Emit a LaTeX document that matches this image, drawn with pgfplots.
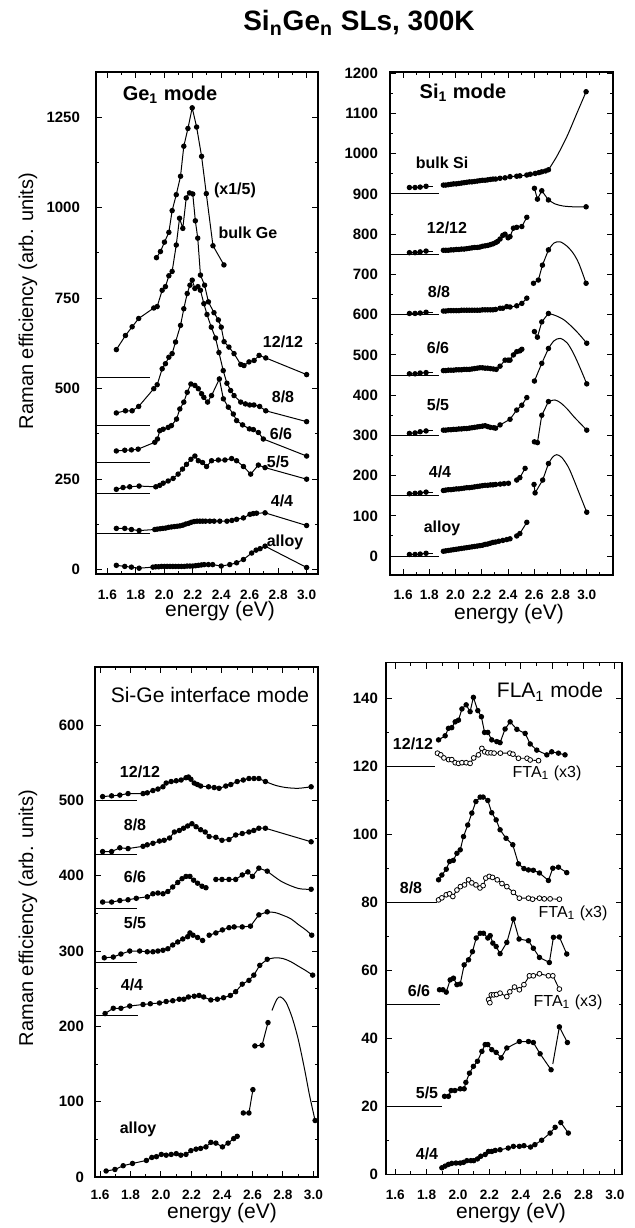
\documentclass[border=0pt]{standalone}
\usepackage{fontspec}
\setmainfont{Liberation Sans}
\usepackage{pgfplots}
\pgfplotsset{compat=1.18}
\pgfplotsset{
  panel/.style={
    scale only axis, anchor=north west,
    axis line style={line width=0.7pt},
    tick style={black, line width=0.5pt},
    major tick length=3pt, minor tick length=1.7pt,
    tick align=inside,
    xtick={1.6,1.8,2.0,2.2,2.4,2.6,2.8,3.0},
    minor xtick={1.5,1.7,1.9,2.1,2.3,2.5,2.7,2.9,3.1},
    minor y tick num=1,
    /pgf/number format/assume math mode=true,
    /pgf/number format/1000 sep={},
    scaled ticks=false,
    xticklabel style={font=\fontsize{6.8}{7}\selectfont\bfseries, /pgf/number format/fixed, /pgf/number format/fixed zerofill, /pgf/number format/precision=1},
    yticklabel style={font=\fontsize{7.5}{8}\selectfont\bfseries},
  },
  dots/.style={black, line width=0.5pt, mark=*, mark size=1.1pt},
  odots/.style={black, line width=0.45pt, mark=*, mark size=1.2pt, mark options={fill=white, line width=0.4pt}},
  bl/.style={black, line width=0.5pt, no markers},
  tl/.style={black, line width=0.5pt, no markers, smooth},
}
\begin{document}
\begin{tikzpicture}
\path[use as bounding box] (0pt,0pt) rectangle (317.5pt,-614pt);

% ---------------- Panel 1: Ge1 mode ----------------
\begin{axis}[panel, at={(48pt,-36pt)}, width=111pt, height=251pt,
  xmin=1.52, xmax=3.08, ymin=-12, ymax=1375,
  ytick={0,250,500,750,1000,1250},
  xticklabel style={yshift=-4.5pt}, yticklabel style={xshift=-4.5pt}]
\addplot[bl] coordinates {(1.5,532)(1.9,532)};
\addplot[bl] coordinates {(1.5,398)(1.9,398)};
\addplot[bl] coordinates {(1.5,296)(1.9,296)};
\addplot[bl] coordinates {(1.5,210)(1.9,210)};
\addplot[bl] coordinates {(1.5,100)(1.9,100)};
% bulk Ge (x1/5)
\addplot[dots] coordinates {(1.945,862)(1.973,879)(2.001,905)(2.032,932)(2.055,992)(2.084,1036)(2.114,1087)(2.137,1170)(2.166,1219)(2.196,1276)(2.227,1223)(2.262,1142)(2.295,1039)(2.342,895)(2.419,842)};
% 12/12
\addplot[dots] coordinates {(1.663,608)(1.727,647)(1.774,671)(1.82,694)(1.926,723)(1.95,727)(1.985,772)(2.008,782)(2.032,812)(2.055,824)(2.084,897)(2.107,971)(2.130,943)(2.154,1027)(2.177,1041)(2.2,1038)(2.218,964)(2.235,916)(2.254,814)(2.283,786)(2.31,740)(2.349,710)(2.38,690)(2.40,670)(2.42,630)(2.454,615)(2.49,597)(2.537,567)(2.56,564)(2.595,574)(2.631,578)(2.666,592)(2.713,585)(3.0,539)};
% 8/8
\addplot[dots] coordinates {(1.663,433)(1.727,439)(1.774,439)(1.82,451)(1.926,500)(1.95,511)(1.985,555)(2.008,569)(2.032,587)(2.055,597)(2.079,629)(2.114,675)(2.137,721)(2.161,763)(2.18,786)(2.196,800)(2.215,777)(2.236,782)(2.254,772)(2.278,735)(2.30,705)(2.33,670)(2.36,640)(2.384,600)(2.414,550)(2.44,515)(2.466,495)(2.49,481)(2.537,463)(2.57,458)(2.6,455)(2.63,455)(2.67,451)(2.713,439)(3.0,409)};
% 6/6
\addplot[dots] coordinates {(1.663,328)(1.722,330)(1.769,331)(1.816,333)(1.933,352)(1.952,361)(1.968,384)(1.992,388)(2.027,393)(2.05,398)(2.086,416)(2.109,444)(2.137,463)(2.161,490)(2.187,513)(2.215,509)(2.239,500)(2.262,486)(2.278,476)(2.304,463)(2.332,481)(2.387,527)(2.415,472)(2.45,449)(2.485,430)(2.508,412)(2.55,400)(2.598,389)(2.626,387)(2.661,379)(2.696,361)(3.0,314)};
% 5/5
\addplot[dots] coordinates {(1.663,222)(1.71,227)(1.757,229)(1.823,231)(1.94,229)(1.968,233)(1.992,239)(2.027,245)(2.062,252)(2.097,264)(2.128,278)(2.156,291)(2.187,305)(2.215,314)(2.239,301)(2.269,296)(2.297,285)(2.332,301)(2.38,303)(2.426,303)(2.473,307)(2.508,301)(2.556,285)(2.607,264)(2.661,289)(2.708,282)(3.0,250)};
% 4/4
\addplot[dots] coordinates {(1.663,114)(1.722,114)(1.769,111)(1.823,108)(1.933,111)(1.95,112)(1.97,113)(1.99,114)(2.01,115)(2.03,117)(2.05,118)(2.07,119)(2.09,120)(2.11,121)(2.13,123)(2.15,126)(2.17,128)(2.19,131)(2.21,133)(2.23,134)(2.25,134)(2.27,134)(2.29,134)(2.32,134)(2.35,134)(2.39,134)(2.44,134)(2.475,136)(2.508,139)(2.556,143)(2.602,153)(2.625,155)(2.648,156)(2.708,157)(3.0,122)};
% alloy
\addplot[dots] coordinates {(1.663,12)(1.722,9)(1.769,7)(1.823,4)(1.92,7)(1.94,8)(1.96,8)(1.98,9)(2.0,9)(2.02,9)(2.04,9)(2.06,9)(2.08,9)(2.1,9)(2.12,9)(2.14,9)(2.16,10)(2.18,10)(2.2,10)(2.22,11)(2.24,12)(2.26,13)(2.28,14)(2.31,14)(2.34,14)(2.4,10)(2.46,14)(2.508,19)(2.556,28)(2.614,46)(2.645,54)(2.673,58)(2.708,65)(3.0,6)};
\end{axis}

% ---------------- Panel 2: Si1 mode ----------------
\begin{axis}[panel, at={(195pt,-36pt)}, width=111.5pt, height=251.5pt,
  xmin=1.5, xmax=3.2, ymin=-47, ymax=1203,
  ytick={0,100,...,1200},
  xticklabel style={yshift=-4pt}, yticklabel style={xshift=-2.5pt}]
\addplot[bl] coordinates {(1.5,900)(1.87,900)};
\addplot[bl] coordinates {(1.5,750)(1.87,750)};
\addplot[bl] coordinates {(1.5,600)(1.87,600)};
\addplot[bl] coordinates {(1.5,450)(1.87,450)};
\addplot[bl] coordinates {(1.5,300)(1.87,300)};
\addplot[bl] coordinates {(1.5,150)(1.87,150)};
\addplot[bl] coordinates {(1.5,0)(1.87,0)};
% bulk Si
\addplot[dots] coordinates {(1.648,916)(1.691,916)(1.73,917)(1.775,919)};
\addplot[bl] coordinates {(1.775,919)(1.83,919)};
\addplot[dots] coordinates {(1.907,922)(1.925,922)(1.945,923)(1.965,924)(1.985,925)(2.005,925)(2.025,926)(2.045,927)(2.065,928)(2.085,929)(2.105,930)(2.125,930)(2.145,931)(2.165,932)(2.185,933)(2.205,934)(2.225,934)(2.245,935)(2.265,936)(2.285,937)(2.305,937)(2.339,939)(2.377,940)(2.415,943)(2.466,944)(2.49,945)(2.543,947)(2.57,949)(2.607,951)(2.635,953)(2.657,955)(2.685,957)(2.708,960)};
\addplot[tl] coordinates {(2.708,960)(2.771,993)(2.848,1042)(2.924,1100)(2.995,1154)};
\addplot[dots] coordinates {(2.995,1154)};
% 12/12
\addplot[dots] coordinates {(1.648,754)(1.691,754)(1.73,756)(1.775,758)};
\addplot[bl] coordinates {(1.775,758)(1.83,758)};
\addplot[dots] coordinates {(1.907,760)(1.925,760)(1.945,760)(1.965,761)(1.985,761)(2.005,762)(2.025,762)(2.045,763)(2.065,763)(2.085,764)(2.105,765)(2.125,766)(2.145,767)(2.165,767)(2.185,768)(2.205,770)(2.225,771)(2.245,772)(2.265,774)(2.285,776)(2.305,779)(2.32,782)(2.339,788)(2.36,797)(2.377,800)(2.40,791)(2.415,794)(2.441,815)(2.466,817)(2.505,819)(2.543,842)};
\addplot[dots] coordinates {(2.601,914)(2.624,887)(2.657,908)(2.708,885)};
\addplot[tl] coordinates {(2.708,885)(2.76,875)(2.82,870)(2.9,868)(2.995,868)};
\addplot[dots] coordinates {(2.995,868)};
% 8/8
\addplot[dots] coordinates {(1.648,603)(1.691,603)(1.73,604)(1.775,606)};
\addplot[bl] coordinates {(1.775,606)(1.83,606)};
\addplot[dots] coordinates {(1.907,609)(1.925,609)(1.945,610)(1.965,610)(1.985,610)(2.005,610)(2.025,610)(2.045,611)(2.065,611)(2.085,611)(2.105,611)(2.125,611)(2.145,611)(2.165,611)(2.185,611)(2.205,612)(2.225,612)(2.245,612)(2.265,612)(2.285,612)(2.305,613)(2.339,616)(2.36,616)(2.39,620)(2.415,619)(2.466,622)(2.505,628)(2.543,641)};
\addplot[dots] coordinates {(2.594,678)(2.631,686)(2.662,723)(2.708,761)};
\addplot[tl] coordinates {(2.708,761)(2.75,778)(2.797,781)(2.85,770)(2.898,752)(2.94,727)(2.995,678)};
\addplot[dots] coordinates {(2.995,678)};
% 6/6
\addplot[dots] coordinates {(1.648,453)(1.691,453)(1.73,455)(1.775,456)};
\addplot[bl] coordinates {(1.775,456)(1.83,456)};
\addplot[dots] coordinates {(1.907,461)(1.925,461)(1.945,462)(1.965,462)(1.985,462)(2.005,463)(2.025,463)(2.045,463)(2.065,464)(2.085,464)(2.105,464)(2.125,465)(2.145,466)(2.165,467)(2.185,468)(2.205,468)(2.225,467)(2.245,467)(2.265,466)(2.288,465)(2.31,464)(2.339,472)(2.377,487)(2.40,487)(2.415,487)(2.441,500)(2.466,508)(2.49,510)(2.505,514)};
\addplot[dots] coordinates {(2.601,558)(2.624,544)(2.657,582)(2.708,603)};
\addplot[tl] coordinates {(2.708,603)(2.76,598)(2.822,588)(2.88,572)(2.94,552)(3.0,529)};
\addplot[dots] coordinates {(3.0,529)};
% 5/5
\addplot[dots] coordinates {(1.648,305)(1.691,306)(1.73,309)(1.775,311)};
\addplot[bl] coordinates {(1.775,311)(1.83,311)};
\addplot[dots] coordinates {(1.907,313)(1.925,313)(1.945,314)(1.965,314)(1.985,315)(2.005,315)(2.025,316)(2.045,316)(2.065,317)(2.085,317)(2.105,318)(2.125,319)(2.145,320)(2.165,321)(2.185,322)(2.205,323)(2.225,324)(2.245,322)(2.265,320)(2.29,319)(2.305,318)(2.339,326)(2.415,340)(2.466,363)(2.505,375)(2.543,394)};
\addplot[dots] coordinates {(2.601,435)(2.657,479)(2.708,516)};
\addplot[tl] coordinates {(2.708,516)(2.75,535)(2.797,541)(2.85,530)(2.9,503)(2.95,467)(3.0,428)};
\addplot[dots] coordinates {(3.0,428)};
% 4/4
\addplot[dots] coordinates {(1.648,155)(1.691,156)(1.73,157)(1.775,159)};
\addplot[bl] coordinates {(1.775,159)(1.83,159)};
\addplot[dots] coordinates {(1.907,163)(1.925,164)(1.945,165)(1.965,165)(1.985,166)(2.005,167)(2.025,167)(2.045,168)(2.065,169)(2.085,170)(2.105,170)(2.125,171)(2.145,172)(2.165,173)(2.185,174)(2.205,175)(2.225,176)(2.245,176)(2.265,177)(2.285,177)(2.305,178)(2.34,179)(2.37,180)(2.403,181)};
\addplot[dots] coordinates {(2.466,189)(2.49,195)(2.53,218)};
\addplot[dots] coordinates {(2.601,284)(2.624,282)(2.657,350)(2.708,384)};
\addplot[tl] coordinates {(2.708,384)(2.757,388)(2.8,381)(2.85,366)(2.9,347)(2.95,330)(3.0,313)};
\addplot[dots] coordinates {(3.0,313)};
% alloy
\addplot[dots] coordinates {(1.648,4)(1.691,4)(1.73,5)(1.775,7)};
\addplot[bl] coordinates {(1.775,7)(1.83,7)};
\addplot[dots] coordinates {(1.907,12)(1.925,13)(1.945,14)(1.965,15)(1.985,16)(2.005,17)(2.025,18)(2.045,19)(2.065,20)(2.085,21)(2.105,22)(2.125,23)(2.145,24)(2.165,25)(2.185,26)(2.205,27)(2.225,29)(2.245,30)(2.265,32)(2.285,34)(2.305,35)(2.33,37)(2.36,39)(2.39,41)(2.415,43)};
\addplot[dots] coordinates {(2.466,50)(2.49,56)(2.543,84)};
\addplot[dots] coordinates {(2.598,178)(2.606,157)(2.664,189)(2.708,230)};
\addplot[tl] coordinates {(2.708,230)(2.74,246)(2.771,252)(2.81,245)(2.86,221)(2.9,191)(2.95,150)(3.0,109)};
\addplot[dots] coordinates {(3.0,109)};
\end{axis}

% ---------------- Panel 3: Si-Ge interface mode ----------------
\begin{axis}[panel, at={(47.5pt,-333.5pt)}, width=111.5pt, height=255pt,
  xmin=1.567, xmax=3.03, ymin=0, ymax=677,
  ytick={0,100,...,600},
  xticklabel style={yshift=-3pt}, yticklabel style={xshift=-2pt}]
\addplot[bl] coordinates {(1.5,500)(1.84,500)};
\addplot[bl] coordinates {(1.5,428)(1.84,428)};
\addplot[bl] coordinates {(1.5,357)(1.84,357)};
\addplot[bl] coordinates {(1.5,285)(1.84,285)};
\addplot[bl] coordinates {(1.5,214)(1.85,214)};
% 12/12
\addplot[dots] coordinates {(1.617,505)(1.676,506)(1.73,507)(1.784,509)(1.882,509)(1.91,510)(1.947,513)(1.98,515)(2.013,518)(2.034,523)(2.067,525)(2.1,526)(2.132,527)(2.164,530)(2.18,531)(2.196,528)(2.218,523)(2.239,521)(2.26,519)(2.312,518)(2.349,517)(2.381,516)(2.425,519)(2.458,521)(2.5,525)(2.54,527)(2.577,529)(2.61,529)(2.642,529)(2.685,525)};
\addplot[tl] coordinates {(2.685,525)(2.75,520)(2.82,517)(2.9,516)(2.985,518)};
\addplot[dots] coordinates {(2.985,518)};
% 8/8
\addplot[dots] coordinates {(1.617,432)(1.676,432)(1.73,437)(1.784,436)(1.882,439)(1.91,441)(1.947,443)(1.99,446)(2.021,447)(2.056,450)(2.088,458)(2.12,460)(2.148,463)(2.175,466)(2.203,469)(2.23,465)(2.26,461)(2.29,458)(2.316,452)(2.36,451)(2.4,447)(2.446,448)(2.49,454)(2.533,456)(2.577,458)(2.609,460)(2.642,463)(2.685,463)(2.985,445)};
% 6/6
\addplot[dots] coordinates {(1.617,365)(1.676,365)(1.73,367)(1.784,368)(1.838,370)(1.91,372)(1.947,376)(1.98,377)(2.013,376)(2.045,379)(2.077,385)(2.11,391)(2.138,396)(2.164,399)(2.19,399)(2.214,394)(2.24,390)(2.269,386)(2.295,384)};
\addplot[dots] coordinates {(2.36,395)(2.4,395)(2.446,395)(2.49,395)(2.533,401)(2.57,405)(2.6,399)(2.642,410)(2.697,406)};
\addplot[tl] coordinates {(2.697,406)(2.793,392)(2.902,383)(2.985,382)};
\addplot[dots] coordinates {(2.985,382)};
% 5/5
\addplot[dots] coordinates {(1.628,291)(1.687,292)(1.737,296)(1.795,300)(1.86,300)(1.91,299)(1.947,299)(1.98,300)(2.013,301)(2.045,303)(2.077,308)(2.11,312)(2.143,316)(2.175,319)(2.19,324)(2.21,321)(2.24,318)(2.273,314)};
\addplot[dots] coordinates {(2.316,321)(2.36,324)(2.403,328)(2.446,331)(2.48,332)(2.533,332)(2.587,333)(2.642,348)(2.697,352)};
\addplot[tl] coordinates {(2.697,352)(2.75,351)(2.793,348)(2.85,343)(2.902,335)(2.95,328)(2.989,321)};
\addplot[dots] coordinates {(2.989,321)};
% 4/4
\addplot[dots] coordinates {(1.633,217)(1.687,224)(1.737,224)(1.795,227)(1.882,229)(1.93,230)(1.99,231)(2.034,233)(2.077,234)(2.12,236)(2.15,236)(2.18,239)(2.218,240)(2.25,241)(2.28,239)(2.327,235)(2.37,236)(2.41,238)(2.455,241)(2.49,246)(2.533,256)(2.577,261)(2.609,268)(2.648,281)(2.697,289)};
\addplot[tl] coordinates {(2.697,289)(2.75,291)(2.8,290)(2.85,286)(2.9,280)(2.95,274)(2.995,268)};
\addplot[dots] coordinates {(2.995,268)};
% alloy
\addplot[dots] coordinates {(1.64,8)(1.698,10)(1.752,15)(1.813,18)(1.904,22)(1.94,26)(1.97,27)(2.002,30)(2.034,29)(2.067,30)(2.1,31)(2.13,29)(2.164,30)(2.196,35)(2.23,37)(2.26,38)(2.295,40)(2.327,46)(2.36,45)(2.403,40)(2.44,45)(2.477,51)(2.5,54)};
\addplot[dots] coordinates {(2.54,85)(2.577,85)(2.603,116)};
\addplot[dots] coordinates {(2.616,174)(2.663,175)(2.702,205)};
\addplot[tl] coordinates {(2.728,221)(2.76,236)(2.785,239)(2.82,232)(2.86,212)(2.9,183)(2.94,145)(2.975,108)(3.011,75)};
\addplot[dots] coordinates {(3.011,75)};
\end{axis}

% ---------------- Panel 4: FLA1 mode ----------------
\begin{axis}[panel, at={(193pt,-331.3pt)}, width=118pt, height=256pt,
  xmin=1.541, xmax=3.045, ymin=0, ymax=150.4,
  ytick={0,20,...,140},
  xticklabel style={yshift=-4pt}, yticklabel style={xshift=-0.5pt}]
\addplot[bl] coordinates {(1.5,120)(1.855,120)};
\addplot[bl] coordinates {(1.5,80)(1.865,80)};
\addplot[bl] coordinates {(1.5,50)(1.882,50)};
\addplot[bl] coordinates {(1.5,20)(1.897,20)};
% 12/12
\addplot[dots] coordinates {(1.876,127.7)(1.918,128.9)(1.939,131.1)(1.96,131.3)(1.982,133)(2.003,133.5)(2.025,136.8)(2.052,138)(2.077,136)(2.098,140.2)(2.126,136.3)(2.149,134.5)(2.169,129.9)(2.19,129.9)(2.215,127.7)(2.247,127.2)(2.268,126.9)(2.3,130.9)(2.332,133)(2.375,130.8)(2.428,129.6)(2.46,126.5)(2.502,124.7)(2.566,123.3)(2.597,124.2)(2.64,123.8)(2.682,123.3)};
\addplot[odots] coordinates {(1.869,123.8)(1.89,123.3)(1.91,122.4)(1.94,121.9)(1.96,121.9)(1.982,121)(2.003,120.8)(2.025,121)(2.052,121)(2.077,120.8)(2.1,122.4)(2.13,123.3)(2.152,125.2)(2.17,124.2)(2.19,123.9)(2.21,123.9)(2.23,123.8)(2.27,123.8)(2.33,123.8)(2.35,123.5)(2.385,122.3)(2.44,122.3)(2.46,121.8)(2.513,121.6)};
% 8/8
\addplot[dots] coordinates {(1.876,86.6)(1.897,88)(1.925,89.7)(1.946,92)(1.97,92.3)(1.993,94.4)(2.014,95.4)(2.035,99.3)(2.062,102.7)(2.088,106.2)(2.114,109.6)(2.141,110.9)(2.16,110.9)(2.19,109.9)(2.215,106.3)(2.243,104.2)(2.268,101.3)(2.306,98.8)(2.349,96.9)(2.385,91.3)(2.42,89.9)(2.449,89.5)(2.48,89.4)(2.519,88.6)(2.576,86.4)(2.604,90)(2.64,90.3)(2.693,88.7)};
\addplot[odots] coordinates {(1.876,80.7)(1.897,81.3)(1.925,82.2)(1.946,82.5)(1.967,81.7)(1.993,83.6)(2.015,84.6)(2.041,85.1)(2.067,86.6)(2.088,85.7)(2.114,85.1)(2.14,84.2)(2.16,84.9)(2.177,87.1)(2.199,87.6)(2.22,87.3)(2.25,86.6)(2.28,85.5)(2.311,84.6)(2.353,82.9)(2.391,81.2)(2.449,81.2)(2.475,80.9)(2.519,81.2)(2.55,81)(2.587,81)(2.646,80.9)};
% 6/6
\addplot[dots] coordinates {(1.882,54.3)(1.904,54.3)(1.925,53.6)(1.95,57.2)(1.971,57.7)(1.993,55.8)(2.014,56)(2.039,61.6)(2.067,63.1)(2.092,65.5)(2.116,69.5)(2.141,70.9)(2.162,70.9)(2.19,69.5)(2.205,70.2)(2.222,68)(2.243,67)(2.268,64.9)(2.311,68.2)(2.353,75.1)(2.389,69.2)(2.449,68.7)(2.48,66.5)(2.519,63.8)(2.582,62.3)(2.608,69.7)(2.646,69.8)(2.693,64.8)};
\addplot[odots] coordinates {(2.195,51.4)(2.203,50.5)(2.212,52.8)(2.228,52.8)(2.245,52.9)(2.268,53.3)(2.311,52.3)(2.33,53.7)(2.36,55.1)(2.391,54.3)(2.42,55.8)(2.455,58.4)(2.48,58.4)(2.519,59)(2.576,58.4)(2.604,58.4)(2.646,54.5)};
% 5/5
\addplot[dots] coordinates {(1.914,23)(1.939,23)(1.956,24.7)(1.98,24.7)(2.014,25.2)(2.039,25.2)(2.05,27.1)(2.073,29.8)(2.098,31.8)(2.124,33.3)(2.152,36.2)(2.173,38.2)(2.19,38.2)(2.215,36.7)(2.243,35.9)(2.275,34.3)(2.311,37.2)(2.391,39.1)(2.449,39.1)(2.48,38.8)(2.523,35.5)(2.593,30.8)};
\addplot[bl] coordinates {(2.604,32.5)(2.646,43.4)};
\addplot[dots] coordinates {(2.646,43.4)(2.697,38.8)};
% 4/4
\addplot[dots] coordinates {(1.897,2.0)(1.918,2.5)(1.939,3)(1.96,3.3)(1.987,3.4)(2.014,3.4)(2.035,3.6)(2.056,4.1)(2.082,4.1)(2.1,4.1)(2.124,4.6)(2.145,5.4)(2.173,5.9)(2.194,6.8)(2.215,6.8)(2.237,7.1)(2.268,7.3)(2.32,7.8)(2.353,8.3)(2.391,8.3)(2.42,8.5)(2.462,8.1)(2.49,8.8)(2.533,10.1)(2.587,12.2)(2.619,13.9)};
\addplot[dots] coordinates {(2.655,15.3)(2.703,12.2)};
\end{axis}

% ---------------- Text ----------------
\begin{scope}[x=0.5pt,y=-0.5pt]
\node[font=\fontsize{14}{16}\selectfont\bfseries] at (359,23) {Si\textsubscript{n}Ge\textsubscript{n} SLs, 300K};
\node[rotate=90, font=\fontsize{10}{12}\selectfont] at (28,301) {Raman efficiency (arb. units)};
\node[rotate=90, font=\fontsize{10}{12}\selectfont] at (28,918) {Raman efficiency (arb. units)};
\node[font=\fontsize{10.5}{12}\selectfont] at (220,611) {energy (eV)};
\node[font=\fontsize{10.5}{12}\selectfont] at (509,614) {energy (eV)};
\node[font=\fontsize{10.5}{12}\selectfont] at (222,1213) {energy (eV)};
\node[font=\fontsize{10.5}{12}\selectfont] at (511,1213) {energy (eV)};
% panel 1
\begin{scope}[every node/.style={font=\fontsize{8}{9}\selectfont\bfseries}]
\node[font=\fontsize{10}{12}\selectfont\bfseries] at (170,95) {Ge\textsubscript{1} mode};
\node at (235,190) {(x1/5)};
\node at (248,233) {bulk Ge};
\node at (283,342) {12/12};
\node at (283,397) {8/8};
\node at (281,434) {6/6};
\node at (278,462) {5/5};
\node at (282,501) {4/4};
\node at (285,542) {alloy};
% panel 2
\node[font=\fontsize{10}{12}\selectfont\bfseries] at (463,93) {Si\textsubscript{1} mode};
\node at (442,163) {bulk Si};
\node at (447,228) {12/12};
\node at (439,292) {8/8};
\node at (438,348) {6/6};
\node at (438,405) {5/5};
\node at (440,472) {4/4};
\node at (442,528) {alloy};
% panel 3
\node[font=\fontsize{10.5}{12}\selectfont] at (210,695) {Si-Ge interface mode};
\node at (140,772) {12/12};
\node at (135,825) {8/8};
\node at (135,877) {6/6};
\node at (135,923) {5/5};
\node at (132,985) {4/4};
\node at (138,1129) {alloy};
% panel 4
\node[font=\fontsize{10.5}{12}\selectfont] at (550,692) {FLA\textsubscript{1} mode};
\node at (413,744) {12/12};
\node[font=\fontsize{8}{9}\selectfont] at (547,773) {FTA\textsubscript{1} (x3)};
\node at (411,888) {8/8};
\node[font=\fontsize{8}{9}\selectfont] at (573,913) {FTA\textsubscript{1} (x3)};
\node at (419,991) {6/6};
\node[font=\fontsize{8}{9}\selectfont] at (568,1002) {FTA\textsubscript{1} (x3)};
\node at (427,1093) {5/5};
\node at (427,1154) {4/4};
\end{scope}
\end{scope}
\end{tikzpicture}
\end{document}
